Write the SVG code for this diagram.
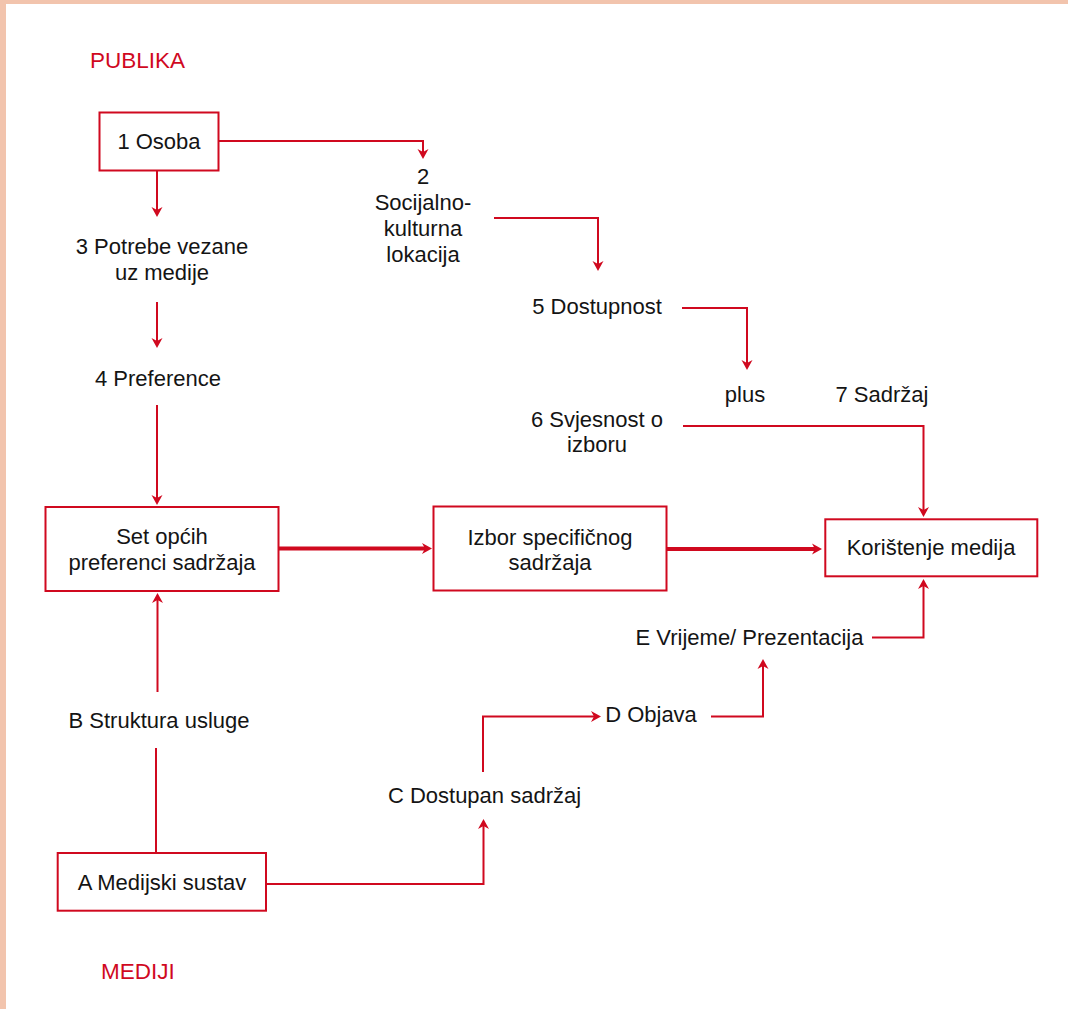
<svg xmlns="http://www.w3.org/2000/svg" width="1068" height="1009" viewBox="0 0 1068 1009">
  <style>
    .box { fill: #ffffff; stroke: #d0091f; stroke-width: 2; }
    .lbl { font-family: "Liberation Sans", Arial, sans-serif; font-size: 22px; fill: #141414; text-anchor: middle; }
    .head { font-family: "Liberation Sans", Arial, sans-serif; font-size: 22.5px; fill: #d0091f; }
    .wire { fill: none; stroke: #d0091f; stroke-width: 2; }
    .thick { fill: none; stroke: #d0091f; stroke-width: 4; }
    .arr { marker-end: url(#tip); }
  </style>
  <defs>
    <marker id="tip" viewBox="0 -6 11 12" refX="3" refY="0" markerWidth="11" markerHeight="12" markerUnits="userSpaceOnUse" orient="auto">
      <path d="M0,-5.5 L10,0 L0,5.5 L3,0 Z" fill="#d0091f"/>
    </marker>
  </defs>

  <!-- page frame: peach band along the top and left edges -->
  <rect x="0" y="0" width="1068" height="1009" fill="#f2c4ad"/>
  <rect x="6" y="4" width="1062" height="1005" fill="#ffffff"/>

  <!-- section headings -->
  <text class="head" x="90" y="68">PUBLIKA</text>
  <text class="head" x="101" y="979">MEDIJI</text>

  <!-- connectors -->
  <g id="connectors">
    <path class="wire arr" d="M157,171 V210"/>
    <path class="wire arr" d="M219,141 H423 V152"/>
    <path class="wire arr" d="M157,302 V341"/>
    <path class="wire arr" d="M157,405 V498"/>
    <path class="wire arr" d="M494,218 H598 V264"/>
    <path class="wire arr" d="M682,308 H747 V363"/>
    <path class="wire arr" d="M683,426 H923.5 V510"/>
    <path class="thick arr" d="M279,548.5 H425"/>
    <path class="thick arr" d="M667,549 H815"/>
    <path class="wire arr" d="M157.5,692 V600"/>
    <path class="wire" d="M156,852 V748"/>
    <path class="wire arr" d="M267,884 H483.5 V826"/>
    <path class="wire arr" d="M483,772 V716.5 H594"/>
    <path class="wire arr" d="M711,716.5 H763 V666"/>
    <path class="wire arr" d="M872,637.5 H923.5 V586"/>
  </g>

  <!-- audience side -->
  <g id="n1-osoba">
    <rect class="box" x="99.5" y="112.5" width="119" height="58"/>
    <text class="lbl" x="159" y="149">1 Osoba</text>
  </g>
  <g id="n2-lokacija">
    <text class="lbl" x="423" y="184">2</text>
    <text class="lbl" x="423" y="210">Socijalno-</text>
    <text class="lbl" x="423" y="236">kulturna</text>
    <text class="lbl" x="423" y="262">lokacija</text>
  </g>
  <g id="n3-potrebe">
    <text class="lbl" x="162" y="254">3 Potrebe vezane</text>
    <text class="lbl" x="162" y="280">uz medije</text>
  </g>
  <g id="n4-preference">
    <text class="lbl" x="158" y="386">4 Preference</text>
  </g>
  <g id="n5-dostupnost">
    <text class="lbl" x="597" y="314">5 Dostupnost</text>
  </g>
  <g id="n-plus">
    <text class="lbl" x="745" y="402">plus</text>
  </g>
  <g id="n7-sadrzaj">
    <text class="lbl" x="882" y="402">7 Sadržaj</text>
  </g>
  <g id="n6-svjesnost">
    <text class="lbl" x="597" y="427">6 Svjesnost o</text>
    <text class="lbl" x="597" y="452">izboru</text>
  </g>

  <!-- main row -->
  <g id="n-set">
    <rect class="box" x="45.5" y="507" width="233" height="84"/>
    <text class="lbl" x="162" y="544">Set općih</text>
    <text class="lbl" x="162" y="570">preferenci sadržaja</text>
  </g>
  <g id="n-izbor">
    <rect class="box" x="433.5" y="506.5" width="233" height="84"/>
    <text class="lbl" x="550" y="545">Izbor specifičnog</text>
    <text class="lbl" x="550" y="570">sadržaja</text>
  </g>
  <g id="n-koristenje">
    <rect class="box" x="825.3" y="519.3" width="212" height="57"/>
    <text class="lbl" x="931" y="555">Korištenje medija</text>
  </g>

  <!-- media side -->
  <g id="nE-vrijeme">
    <text class="lbl" x="749.5" y="645">E Vrijeme/ Prezentacija</text>
  </g>
  <g id="nB-struktura">
    <text class="lbl" x="159" y="728">B Struktura usluge</text>
  </g>
  <g id="nD-objava">
    <text class="lbl" x="651" y="722">D Objava</text>
  </g>
  <g id="nC-dostupan">
    <text class="lbl" x="484.5" y="803">C Dostupan sadržaj</text>
  </g>
  <g id="nA-medijski">
    <rect class="box" x="57.7" y="853" width="208.3" height="57.7"/>
    <text class="lbl" x="162" y="890">A Medijski sustav</text>
  </g>
</svg>
